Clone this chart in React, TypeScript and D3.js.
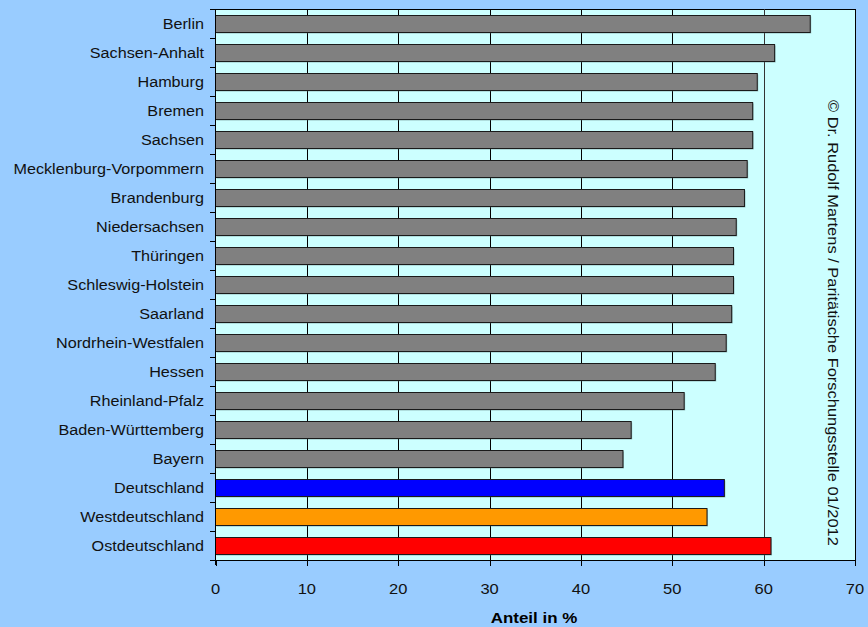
import React, { useRef, useEffect } from "react";
import * as d3 from "d3";

const categories = [
  "Berlin",
  "Sachsen-Anhalt",
  "Hamburg",
  "Bremen",
  "Sachsen",
  "Mecklenburg-Vorpommern",
  "Brandenburg",
  "Niedersachsen",
  "Thüringen",
  "Schleswig-Holstein",
  "Saarland",
  "Nordrhein-Westfalen",
  "Hessen",
  "Rheinland-Pfalz",
  "Baden-Württemberg",
  "Bayern",
  "Deutschland",
  "Westdeutschland",
  "Ostdeutschland",
];

const values = [
  65.1, 61.2, 59.3, 58.8, 58.8, 58.2, 57.9, 57.0, 56.7, 56.7, 56.5, 55.9, 54.7,
  51.3, 45.5, 44.6, 55.7, 53.8, 60.8,
];

const barColors: Record<string, string> = {
  Deutschland: "#0000ff",
  Westdeutschland: "#ff9900",
  Ostdeutschland: "#ff0000",
};

const xTicks = [0, 10, 20, 30, 40, 50, 60, 70];

const W = 868;
const H = 627;
const margin = { top: 9, right: 13, bottom: 67, left: 215 };

const App: React.FC = () => {
  const svgRef = useRef<SVGSVGElement>(null);

  useEffect(() => {
    if (!svgRef.current) return;
    const svg = d3.select(svgRef.current);
    svg.selectAll("*").remove();

    const font = "'Liberation Sans', Arial, sans-serif";
    const x0 = margin.left;
    const x1 = W - margin.right;
    const y0 = margin.top;
    const y1 = H - margin.bottom;
    const stretch = 1.1; // text in the original is a bit wider than Arial

    const x = d3.scaleLinear().domain([0, 70]).range([x0 + 0.5, x1]);
    const y = d3.scaleBand().domain(categories).range([y0, y1]).paddingInner(0.43).paddingOuter(0.215);
    const band = d3.scaleBand().domain(categories).range([y0, y1]);

    svg.append("rect").attr("width", W).attr("height", H).attr("fill", "#99ccff");

    // plot area
    svg
      .append("rect")
      .attr("x", x0 + 0.5)
      .attr("y", y0 + 0.5)
      .attr("width", x1 - x0)
      .attr("height", y1 - y0)
      .attr("fill", "#ccffff")
      .attr("stroke", "#000")
      .attr("stroke-width", 1);

    // gridlines
    svg
      .append("g")
      .selectAll("line")
      .data(xTicks.slice(1, -1))
      .enter()
      .append("line")
      .attr("x1", (d) => Math.round(x(d)) + 0.5)
      .attr("x2", (d) => Math.round(x(d)) + 0.5)
      .attr("y1", y0)
      .attr("y2", y1)
      .attr("stroke", (d) => (d === 60 ? "#333" : "#000"))
      .attr("stroke-width", 1);

    // bars (shadow + bar)
    const g = svg.append("g");
    g.selectAll("rect.shadow")
      .data(categories)
      .enter()
      .append("rect")
      .attr("class", "shadow")
      .attr("x", x(0) + 1)
      .attr("y", (d) => Math.round(y(d)!) + 1.5)
      .attr("width", (d, i) => x(values[i]) - x(0))
      .attr("height", Math.round(y.bandwidth()))
      .attr("fill", "#5a7a7a")
      .attr("opacity", 0.5);
    g.selectAll("rect.bar")
      .data(categories)
      .enter()
      .append("rect")
      .attr("class", "bar")
      .attr("x", x(0))
      .attr("y", (d) => Math.round(y(d)!) + 0.5)
      .attr("width", (d, i) => x(values[i]) - x(0))
      .attr("height", Math.round(y.bandwidth()))
      .attr("fill", (d) => barColors[d] || "#808080")
      .attr("stroke", "#1a1a1a")
      .attr("stroke-width", 1);

    // left axis
    svg
      .append("line")
      .attr("x1", x0 + 0.5)
      .attr("x2", x0 + 0.5)
      .attr("y1", y0)
      .attr("y2", y1 + 5)
      .attr("stroke", "#000");
    const bounds = categories.map((c) => band(c)!).concat([y1]);
    svg
      .append("g")
      .selectAll("line")
      .data(bounds)
      .enter()
      .append("line")
      .attr("x1", x0 - 5)
      .attr("x2", x0)
      .attr("y1", (d) => Math.round(d) + 0.5)
      .attr("y2", (d) => Math.round(d) + 0.5)
      .attr("stroke", "#000");

    svg
      .append("g")
      .selectAll("text")
      .data(categories)
      .enter()
      .append("text")
      .attr("transform", (d) => `translate(${x0 - 11},${band(d)! + band.bandwidth() / 2}) scale(1.065,1)`)
      .attr("dy", "0.36em")
      .attr("text-anchor", "end")
      .attr("font-family", font)
      .attr("font-size", 15.2)
      .attr("fill", "#111")
      .text((d) => d);

    // bottom axis
    svg
      .append("line")
      .attr("x1", x0)
      .attr("x2", x1 + 0.5)
      .attr("y1", y1 + 0.5)
      .attr("y2", y1 + 0.5)
      .attr("stroke", "#000");
    svg
      .append("g")
      .selectAll("line")
      .data(xTicks)
      .enter()
      .append("line")
      .attr("x1", (d) => Math.round(x(d)) + 0.5)
      .attr("x2", (d) => Math.round(x(d)) + 0.5)
      .attr("y1", y1)
      .attr("y2", y1 + 6)
      .attr("stroke", "#000");
    svg
      .append("g")
      .selectAll("text")
      .data(xTicks)
      .enter()
      .append("text")
      .attr("transform", (d) => `translate(${x(d)},594) scale(${stretch},1)`)
      .attr("text-anchor", "middle")
      .attr("font-family", font)
      .attr("font-size", 15)
      .attr("fill", "#111")
      .text((d) => String(d));

    svg
      .append("text")
      .attr("transform", `translate(${(x0 + x1) / 2 - 1},623) scale(1.13,1)`)
      .attr("text-anchor", "middle")
      .attr("font-family", font)
      .attr("font-size", 15)
      .attr("font-weight", "bold")
      .attr("fill", "#000")
      .text("Anteil in %");

    // copyright, rotated
    svg
      .append("text")
      .attr("transform", `translate(828, 100) rotate(90) scale(1.06,1)`)
      .attr("text-anchor", "start")
      .attr("font-family", font)
      .attr("font-size", 15.5)
      .attr("fill", "#111")
      .text("© Dr. Rudolf Martens / Paritätische Forschungsstelle 01/2012");
  }, []);

  return (
    <div style={{ position: "fixed", left: 0, top: 0 }}>
      <svg ref={svgRef} width={W} height={H} style={{ display: "block" }} />
    </div>
  );
};

export default App;
